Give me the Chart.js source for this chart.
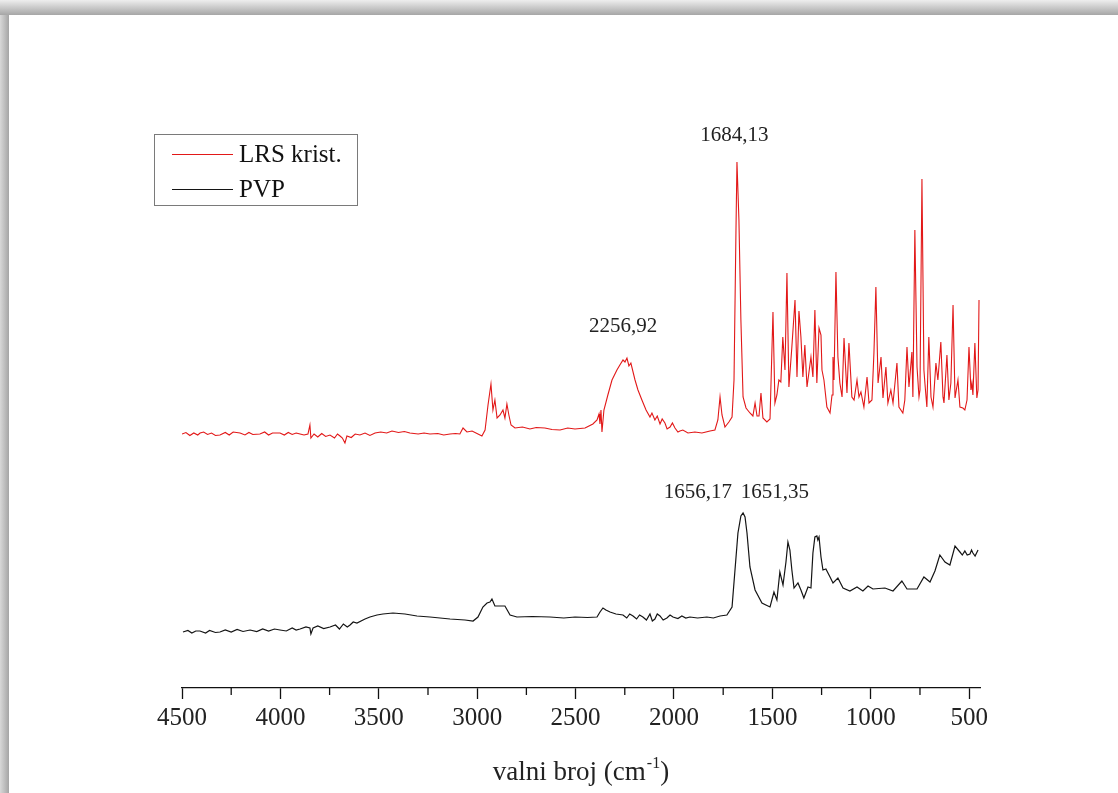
<!DOCTYPE html>
<html><head><meta charset="utf-8">
<script src="https://cdn.jsdelivr.net/npm/chart.js@4.4.0/dist/chart.umd.min.js"></script>
<style>
html,body{margin:0;padding:0;background:#fff;}
body{width:1118px;height:793px;position:relative;overflow:hidden;}
#shTop{position:absolute;left:0;top:0;width:1118px;height:15px;background:linear-gradient(to bottom,#eeeeee,#a6a6a6);}
#shLeft{position:absolute;left:0;top:15px;width:9px;height:778px;background:linear-gradient(to right,#d8d8d8,#a5a5a5);}
#c{position:absolute;left:9px;top:15px;}
</style></head><body>
<div id="shTop"></div><div id="shLeft"></div>
<canvas id="c" width="1109" height="778"></canvas>
<script>
// wavenumber (cm-1), intensity (a.u.)
const lrsSpectrum = [
[4500,50.8],[4480,51.1],[4460,50.5],[4440,51.0],[4420,50.6],[4408,51.0],[4390,51.2],[4370,50.7],[4350,51.0],[4330,50.5],[4307,50.6],[4280,51.1],[4260,50.6],[4240,51.2],[4205,51.0],[4180,50.6],[4160,51.1],[4140,50.7],[4104,50.8],[4080,51.2],[4060,50.6],[4040,51.0],[4002,51.0],[3980,50.6],[3960,51.1],[3940,50.7],[3920,51.0],[3900,50.8],[3880,50.6],[3860,50.8],[3850,52.6],[3845,50.0],[3829,50.8],[3810,50.2],[3790,50.9],[3770,50.3],[3748,50.6],[3725,50.0],[3710,50.8],[3697,50.4],[3685,50.0],[3672,49.0],[3662,50.4],[3640,50.1],[3620,50.8],[3596,50.6],[3570,51.0],[3545,50.5],[3519,51.0],[3490,51.2],[3460,51.0],[3433,51.4],[3400,51.1],[3370,51.3],[3342,51.0],[3300,50.8],[3270,51.0],[3240,50.8],[3200,50.9],[3170,50.6],[3138,50.8],[3110,50.9],[3088,50.8],[3072,52.0],[3052,51.2],[3026,51.4],[2996,50.8],[2976,50.4],[2960,51.6],[2945,56.6],[2930,60.8],[2920,55.6],[2910,57.6],[2899,54.0],[2884,54.6],[2869,55.6],[2859,54.0],[2849,56.8],[2839,54.6],[2828,52.6],[2808,52.0],[2770,52.2],[2732,51.8],[2700,52.1],[2656,52.0],[2620,51.7],[2579,51.6],[2540,52.0],[2503,51.8],[2452,52.0],[2412,52.8],[2391,53.6],[2381,54.8],[2376,52.8],[2371,55.6],[2366,51.2],[2356,55.6],[2336,58.6],[2315,61.6],[2290,63.6],[2275,64.6],[2259,65.6],[2249,65.2],[2239,66.0],[2229,64.4],[2219,65.0],[2198,61.6],[2183,59.6],[2163,57.6],[2142,55.6],[2122,54.2],[2112,55.0],[2097,53.6],[2085,54.4],[2071,52.8],[2060,53.8],[2046,53.0],[2035,51.8],[2020,52.2],[2008,53.0],[1995,52.0],[1980,51.2],[1970,51.4],[1955,51.6],[1929,51.0],[1894,51.2],[1858,51.0],[1817,51.4],[1792,51.6],[1777,53.6],[1766,58.2],[1756,54.6],[1741,52.2],[1721,53.2],[1705,54.2],[1695,61.6],[1685,91.6],[1680,105.2],[1670,93.6],[1660,73.6],[1649,58.2],[1634,56.0],[1614,55.0],[1599,54.4],[1588,57.0],[1578,54.4],[1568,54.4],[1558,59.0],[1548,54.0],[1528,53.2],[1512,53.8],[1497,75.2],[1487,57.0],[1477,58.6],[1467,61.6],[1457,61.2],[1447,70.2],[1436,63.6],[1426,83.0],[1416,60.2],[1401,68.2],[1385,77.6],[1375,62.2],[1365,75.4],[1355,70.2],[1345,62.2],[1335,68.6],[1324,60.2],[1314,63.2],[1304,66.2],[1294,62.2],[1284,75.6],[1274,61.0],[1263,72.0],[1253,70.6],[1248,63.6],[1238,61.6],[1223,56.2],[1207,55.0],[1197,58.6],[1192,66.2],[1187,61.6],[1177,83.2],[1167,66.2],[1157,61.0],[1146,58.2],[1136,70.0],[1121,59.0],[1111,69.0],[1096,58.2],[1085,57.6],[1070,61.6],[1060,58.2],[1050,59.2],[1035,56.2],[1019,62.2],[1009,57.0],[994,57.6],[984,67.0],[974,80.2],[963,61.0],[948,66.2],[938,58.0],[923,64.2],[913,57.0],[898,59.6],[887,57.0],[867,65.0],[857,56.2],[837,55.0],[827,57.6],[816,68.2],[806,60.2],[791,67.2],[786,58.2],[776,91.6],[765,64.2],[755,58.2],[750,59.6],[740,101.8],[730,63.6],[725,61.0],[715,56.2],[705,70.2],[694,58.2],[684,56.2],[669,65.0],[659,61.6],[644,69.2],[633,58.2],[628,57.0],[613,66.6],[603,57.6],[593,61.0],[582,76.6],[572,58.0],[557,61.6],[547,56.2],[532,56.0],[522,55.6],[511,57.6],[501,68.2],[491,59.6],[486,61.0],[481,58.6],[471,69.0],[461,58.0],[455,59.6],[450,77.6]
];
const pvpSpectrum = [
[4495,11.2],[4470,11.5],[4450,11.0],[4430,11.4],[4409,11.4],[4380,11.0],[4360,11.5],[4330,11.1],[4307,11.2],[4280,11.6],[4250,11.2],[4220,11.7],[4190,11.3],[4154,11.6],[4120,11.3],[4090,11.8],[4060,11.4],[4030,11.8],[4002,11.6],[3970,11.4],[3940,12.0],[3920,11.6],[3900,11.8],[3870,12.2],[3850,12.0],[3845,10.8],[3834,12.0],[3810,12.4],[3780,11.9],[3748,12.2],[3720,12.6],[3700,11.8],[3680,12.8],[3660,12.2],[3646,12.6],[3630,13.2],[3611,13.0],[3570,13.8],[3545,14.2],[3509,14.6],[3479,14.8],[3428,15.0],[3367,14.8],[3306,14.4],[3240,14.2],[3138,13.8],[3062,13.6],[3021,13.4],[2996,14.2],[2971,16.2],[2950,17.0],[2935,17.2],[2925,17.8],[2910,16.4],[2884,16.4],[2859,16.4],[2833,14.6],[2798,14.2],[2720,14.3],[2630,14.2],[2560,14.0],[2503,14.2],[2440,14.1],[2391,14.2],[2376,15.2],[2361,16.0],[2346,15.6],[2325,15.2],[2295,14.8],[2259,14.6],[2240,14.0],[2225,14.8],[2208,14.4],[2190,13.8],[2175,14.6],[2158,14.2],[2140,13.6],[2122,14.8],[2110,13.4],[2097,13.8],[2085,14.8],[2071,14.4],[2055,13.6],[2036,14.0],[2020,14.6],[2005,14.2],[1980,13.9],[1960,14.4],[1940,14.0],[1919,14.2],[1880,14.0],[1833,14.2],[1800,14.0],[1766,14.4],[1731,14.6],[1705,16.2],[1690,23.6],[1675,31.0],[1660,34.4],[1649,35.0],[1639,34.2],[1629,31.0],[1614,24.2],[1588,19.6],[1553,17.0],[1533,16.6],[1512,16.2],[1492,19.2],[1477,17.6],[1462,23.2],[1446,20.6],[1431,25.2],[1421,29.2],[1411,27.6],[1401,23.6],[1390,20.0],[1370,21.0],[1355,19.6],[1340,18.0],[1319,20.2],[1304,20.0],[1294,27.0],[1284,30.2],[1274,30.4],[1269,29.6],[1263,30.2],[1253,26.2],[1243,23.6],[1228,23.8],[1207,22.2],[1192,21.0],[1167,22.0],[1141,20.0],[1106,19.4],[1070,20.2],[1040,19.4],[1014,20.4],[989,19.8],[928,20.0],[887,19.4],[842,21.4],[816,19.8],[765,19.8],[730,22.2],[699,21.2],[674,23.4],[649,26.6],[623,25.2],[598,24.6],[572,28.4],[547,27.2],[535,26.6],[522,27.4],[510,26.6],[496,26.8],[488,27.6],[481,27.0],[470,26.4],[455,27.6]
];
const seriesNames = ['LRS krist.', 'PVP'];
const xTickValues = [4500,4250,4000,3750,3500,3250,3000,2750,2500,2250,2000,1750,1500,1250,1000,750,500];
const xTickLabels = ['4500','','4000','','3500','','3000','','2500','','2000','','1500','','1000','','500'];
const peakLabels = ['1684,13', '2256,92', '1656,17', '1651,35'];
const axisTitle = 'valni broj (cm';
const axisTitleSup = '-1';

const peakLabelPos = [[1693,110.5],[2259,72.3],[1878,39.2],[1487,39.2]];
const FONT = "'Liberation Serif', 'Times New Roman', serif";

const decor = {
  id: 'decor',
  afterDraw(chart) {
    const {ctx, chartArea: a, scales: {x, y}} = chart;
    ctx.save();
    // minor ticks (unlabelled)
    ctx.strokeStyle = '#111'; ctx.lineWidth = 1.3;
    xTickValues.forEach((v, i) => {
      if (!xTickLabels[i]) {
        const px = x.getPixelForValue(v);
        ctx.beginPath(); ctx.moveTo(px, a.bottom); ctx.lineTo(px, a.bottom + 7); ctx.stroke();
      }
    });
    // peak labels
    ctx.fillStyle = '#222';
    ctx.font = "21px " + FONT;
    ctx.textAlign = 'center'; ctx.textBaseline = 'middle';
    peakLabels.forEach((txt, i) => {
      ctx.fillText(txt, x.getPixelForValue(peakLabelPos[i][0]), y.getPixelForValue(peakLabelPos[i][1]));
    });
    // legend
    const lx = a.left - 28, ly = a.top + 46, lw = 203, lh = 71;
    ctx.strokeStyle = '#7a7a7a'; ctx.lineWidth = 1;
    ctx.strokeRect(lx + 0.5, ly + 0.5, lw, lh);
    ctx.font = "25px " + FONT; ctx.textAlign = 'left';
    chart.data.datasets.forEach((ds, i) => {
      const yy = ly + 20 + i * 35;
      ctx.strokeStyle = ds.borderColor; ctx.lineWidth = 1;
      ctx.beginPath(); ctx.moveTo(lx + 18, yy + 0.5); ctx.lineTo(lx + 79, yy + 0.5); ctx.stroke();
      ctx.fillStyle = '#111';
      ctx.fillText(ds.label, lx + 85, yy + 1);
    });
    // axis title with superscript
    const fMain = "27px " + FONT, fSup = "16px " + FONT;
    ctx.font = fMain; const w1 = ctx.measureText(axisTitle).width; const w3 = ctx.measureText(')').width;
    ctx.font = fSup; const w2 = ctx.measureText(axisTitleSup).width;
    const total = w1 + w2 + w3 + 1;
    let tx = (a.left + a.right) / 2 - total / 2;
    const base = a.bottom + 92;
    ctx.textBaseline = 'alphabetic'; ctx.fillStyle = '#222';
    ctx.font = fMain; ctx.fillText(axisTitle, tx, base); tx += w1 + 1;
    ctx.font = fSup; ctx.fillText(axisTitleSup, tx, base - 12); tx += w2;
    ctx.font = fMain; ctx.fillText(')', tx, base);
    ctx.restore();
  }
};

new Chart(document.getElementById('c'), {
  type: 'line',
  data: {
    datasets: [
      {label: seriesNames[0], data: lrsSpectrum.map(([x, y]) => ({x, y})), borderColor: 'rgb(226,24,24)', borderWidth: 1.1, pointRadius: 0, tension: 0},
      {label: seriesNames[1], data: pvpSpectrum.map(([x, y]) => ({x, y})), borderColor: 'rgb(20,20,20)', borderWidth: 1.2, pointRadius: 0, tension: 0}
    ]
  },
  options: {
    responsive: false, animation: false, devicePixelRatio: 1,
    layout: {padding: {left: 173, right: 138, top: 73, bottom: 0}},
    plugins: {legend: {display: false}, tooltip: {enabled: false}},
    scales: {
      x: {
        type: 'linear', reverse: true, min: 445, max: 4500,
        afterFit: s => { s.height = 105; },
        afterBuildTicks: s => { s.ticks = xTickValues.map(v => ({value: v})); },
        border: {display: true, color: '#111', width: 1.3},
        grid: {drawOnChartArea: false, drawTicks: true, tickLength: 11, tickWidth: 1.3,
               tickColor: c => (c.tick && xTickLabels[xTickValues.indexOf(c.tick.value)]) ? '#111' : 'rgba(0,0,0,0)'},
        ticks: {autoSkip: false, maxRotation: 0, minRotation: 0, padding: 4,
                color: '#222', font: {family: FONT, size: 25},
                callback: (v) => { const i = xTickValues.indexOf(v); return i >= 0 ? xTickLabels[i] : ''; }}
      },
      y: {display: false, min: 0, max: 120}
    }
  },
  plugins: [decor]
});
</script>
</body></html>
